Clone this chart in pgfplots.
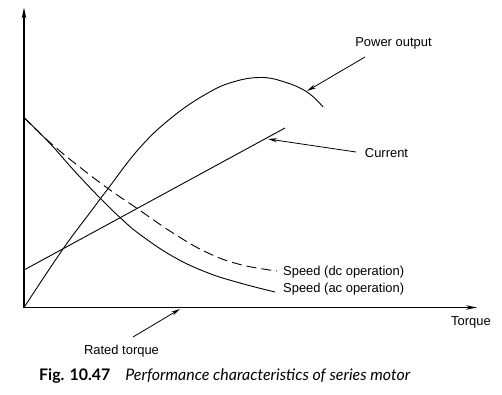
\documentclass[border=0pt]{standalone}
\usepackage{pgfplots}
\pgfplotsset{compat=1.18}
\usepackage{fontspec}
\setmainfont{Liberation Sans}
\newfontfamily\capfont{Lato}
\usetikzlibrary{arrows.meta}
\begin{document}
\begin{tikzpicture}
\begin{axis}[
  scale only axis, width=453bp, height=300bp,
  xmin=0, xmax=453, ymin=0, ymax=300,
  axis lines=left,
  axis line style={line width=1.3bp, -{Stealth[length=11bp,width=4.5bp]}},
  xtick=\empty, ytick=\empty,
  clip=false,
]
\path (axis cs:-24,-87.5) rectangle (axis cs:478,307.5);
% Power output
\addplot[black, no markers, line width=0.9bp, smooth, tension=0.7] coordinates {
(0,0) (39,58.5) (68,97.5) (83,117.5) (116,160) (149,191) (183,214)
(209,225.5) (236,230) (259,226) (283,215.5) (299,200.5)};
% Current
\addplot[black, no markers, line width=0.9bp] coordinates {(0,37.5) (261,179.5)};
% Speed (ac)
\addplot[black, no markers, line width=0.9bp, smooth, tension=0.7] coordinates {
(0,190) (26,164) (50,137) (76,109.5) (96,90) (116,73) (149,51)
(183,35) (216,24.5) (251,15.5)};
% Speed (dc)
\addplot[black, no markers, line width=0.9bp, smooth, tension=0.7, dash pattern=on 10bp off 5bp] coordinates {
(0,190) (26,165) (55,141) (84,119) (111,100.5) (149,74.5) (183,55)
(216,43) (253,36.5)};
% annotations
\node[font=\fontsize{13}{15}\selectfont] at (axis cs:369.5,264.5) {Power output};
\draw[line width=0.8bp, -{Stealth[length=9bp,width=4bp]}] (axis cs:341,250.5) -- (axis cs:283,216.5);
\node[font=\fontsize{13}{15}\selectfont] at (axis cs:362.5,154.5) {Current};
\draw[line width=0.8bp, -{Stealth[length=9bp,width=4bp]}] (axis cs:332,155.5) -- (axis cs:244,168.5);
\node[anchor=west, inner sep=0pt, font=\fontsize{13}{15}\selectfont] at (axis cs:259,35) {Speed (dc operation)};
\node[anchor=west, inner sep=0pt, font=\fontsize{13}{15}\selectfont] at (axis cs:259,18.5) {Speed (ac operation)};
\node[font=\fontsize{13}{15}\selectfont] at (axis cs:447,-14.5) {Torque};
\node[font=\fontsize{13}{15}\selectfont] at (axis cs:97.5,-43.5) {Rated torque};
\draw[line width=0.8bp, -{Stealth[length=9bp,width=4bp]}] (axis cs:109,-29.5) -- (axis cs:156,-1.5);
\node[anchor=west, inner sep=0pt, font=\capfont\fontsize{16}{18}\selectfont] at (axis cs:15,-69)
  {\textbf{Fig. 10.47}\hspace{15bp}\textit{Performance characteristics of series motor}};
\end{axis}
\end{tikzpicture}
\end{document}
